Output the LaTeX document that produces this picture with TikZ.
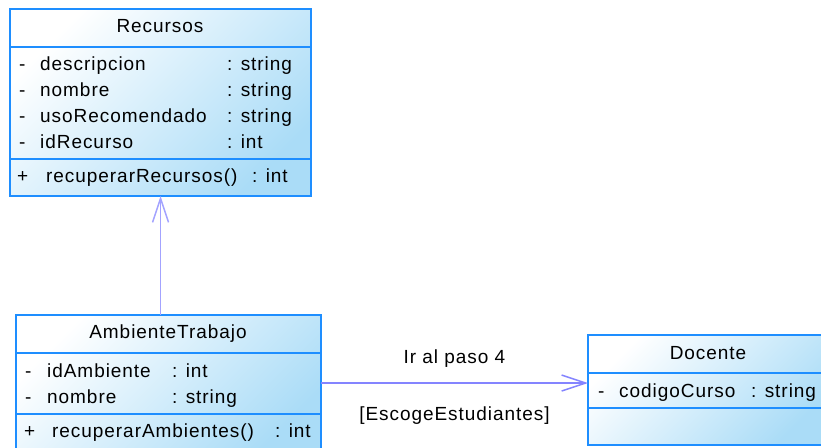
\documentclass[tikz,border=0pt]{standalone}
\usepackage{fontspec}
\setmainfont{Liberation Sans}[LetterSpace=5]
\usetikzlibrary{arrows.meta,positioning,calc}

\definecolor{umlborder}{HTML}{1E8EFF}
\definecolor{umlfill}{HTML}{AADCF7}
\definecolor{umllink}{HTML}{8484FF}
\newcommand\umltext{\fontsize{19}{22}\selectfont}

\begin{document}
\begin{tikzpicture}[
    x=1pt, y=-1pt,
    classbox/.style={draw=umlborder, line width=1.8pt, top color=white, bottom color=umlfill,
        shading angle=45, anchor=north west, outer sep=0pt, inner sep=0pt},
    sep/.style={draw=umlborder, line width=1.8pt},
    txt/.style={anchor=base west, inner sep=0pt, font=\umltext},
    title/.style={anchor=base, inner sep=0pt, font=\umltext},
    link/.style={draw=umllink, line width=1.3pt, -{Straight Barb[length=24pt, width=16pt, line width=1.5pt]}}
]
    \path[use as bounding box, clip] (0,0) rectangle (821,447);

    % Recursos
    \node[classbox, minimum width=301pt, minimum height=187pt] (recursos) at (10,9) {};
    \draw[sep] (recursos.west |- 0,47) -- (recursos.east |- 0,47);
    \draw[sep] (recursos.west |- 0,159) -- (recursos.east |- 0,159);
    \node[title] (recursos-name) at (160,32) {Recursos};
    \node[txt] (r1v) at (19,70) {-};  \node[txt] (r1n) at (40,70) {descripcion};     \node[txt] (r1t) at (227,70) {: string};
    \node[txt] (r2v) at (19,96) {-};  \node[txt] (r2n) at (40,96) {nombre};          \node[txt] (r2t) at (227,96) {: string};
    \node[txt] (r3v) at (19,122) {-}; \node[txt] (r3n) at (40,122) {usoRecomendado}; \node[txt] (r3t) at (227,122) {: string};
    \node[txt] (r4v) at (19,148) {-}; \node[txt] (r4n) at (40,148) {idRecurso};      \node[txt] (r4t) at (227,148) {: int};
    \node[txt] (r5v) at (17,182) {+}; \node[txt] (r5n) at (46,182) {recuperarRecursos\hspace{1pt}()}; \node[txt] (r5t) at (252,182) {: int};

    % AmbienteTrabajo
    \node[classbox, minimum width=305pt, minimum height=140pt] (ambiente) at (16,315) {};
    \draw[sep] (ambiente.west |- 0,353) -- (ambiente.east |- 0,353);
    \draw[sep] (ambiente.west |- 0,414) -- (ambiente.east |- 0,414);
    \node[title] (ambiente-name) at (168,338) {AmbienteTrabajo};
    \node[txt] (a1v) at (25,377) {-}; \node[txt] (a1n) at (47,377) {idAmbiente}; \node[txt] (a1t) at (172,377) {: int};
    \node[txt] (a2v) at (25,403) {-}; \node[txt] (a2n) at (47,403) {nombre};     \node[txt] (a2t) at (172,403) {: string};
    \node[txt] (a3v) at (24,437) {+}; \node[txt] (a3n) at (52,437) {recuperarAmbientes\hspace{1pt}()}; \node[txt] (a3t) at (275,437) {: int};

    % Docente
    \node[classbox, minimum width=240pt, minimum height=110pt] (docente) at (588,335) {};
    \draw[sep] (docente.west |- 0,373) -- (docente.east |- 0,373);
    \draw[sep] (docente.west |- 0,408) -- (docente.east |- 0,408);
    \node[title] (docente-name) at (708,359) {Docente};
    \node[txt] (d1v) at (598,397) {-}; \node[txt] (d1n) at (619,397) {codigoCurso}; \node[txt] (d1t) at (751,397) {: string};

    % relaciones
    \coordinate (amb-out) at (ambiente.east |- 0,383);
    \draw[link, draw=umllink!75] (ambiente.north -| recursos.south) -- (recursos.south);
    \draw[link] (amb-out) -- (amb-out -| docente.west)
        node[midway, anchor=base, yshift=20pt, inner sep=0pt, font=\umltext] (paso) {Ir al paso 4}
        node[midway, anchor=base, yshift=-37pt, inner sep=0pt, font=\umltext] (guarda) {[EscogeEstudiantes]};
\end{tikzpicture}
\end{document}
